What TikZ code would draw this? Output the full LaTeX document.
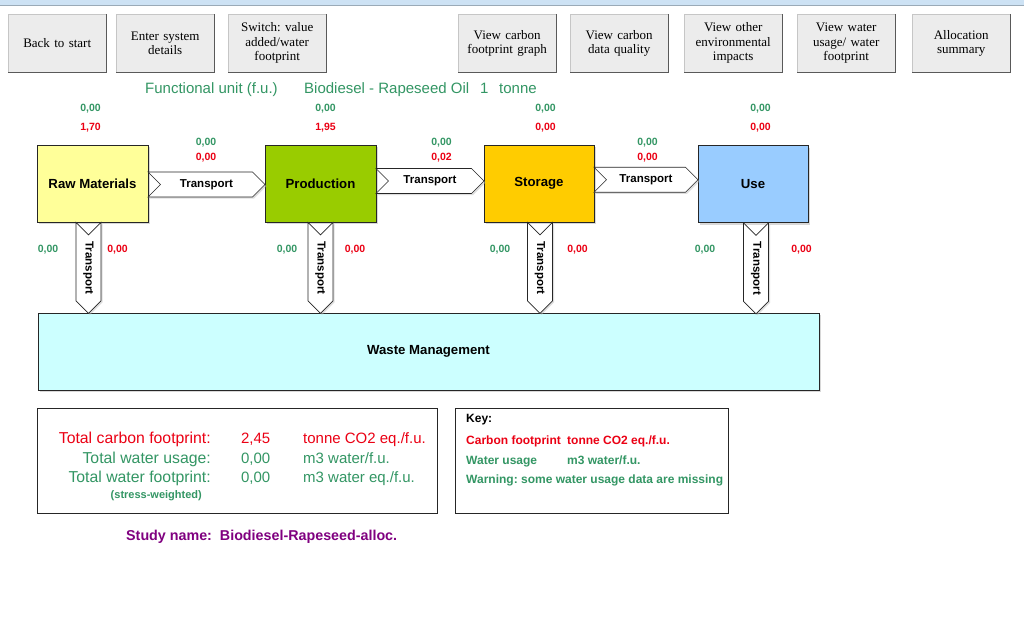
\documentclass[tikz,border=0pt]{standalone}
\usepackage{fontspec}
\setmainfont{Liberation Sans}
\newfontfamily\btnfont{Liberation Serif}
\usetikzlibrary{calc}
\usetikzlibrary{positioning}
\usetikzlibrary{shapes.symbols}
\usetikzlibrary{shadows}
\frenchspacing

\definecolor{fugreen}{RGB}{51,150,100}
\definecolor{fured}{RGB}{235,0,20}
\definecolor{rawfill}{RGB}{255,255,153}
\definecolor{prodfill}{RGB}{153,204,0}
\definecolor{storfill}{RGB}{255,204,0}
\definecolor{usefill}{RGB}{153,204,255}
\definecolor{wastefill}{RGB}{204,255,255}
\definecolor{btnfill}{RGB}{236,236,236}
\definecolor{studypurple}{RGB}{128,0,128}
\definecolor{barblue}{RGB}{205,226,244}

\begin{document}
\begin{tikzpicture} [x=1pt,y=-1pt,
  btn/.style={draw=gray!45, fill=btnfill, minimum width=98pt, minimum height=58pt, inner sep=1pt, align=center, text width=96pt, font=\btnfont\fontsize{13}{14.5}\selectfont},
  stage/.style={draw=black!85, line width=.8pt, minimum width=111pt, minimum height=77pt, font=\fontsize{13.2}{15}\selectfont\bfseries, drop shadow={shadow xshift=2pt, shadow yshift=-2pt, fill=black!30}},
  trans/.style={signal, signal from=west, signal to=east, draw=black!85, fill=white, line width=.6pt, minimum height=25pt, inner sep=0pt, font=\fontsize{11.5}{13}\selectfont\bfseries, drop shadow={shadow xshift=1.5pt, shadow yshift=-1.5pt, fill=black!25}},
  gval/.style={text=fugreen, inner sep=0pt, font=\fontsize{10.5}{12}\selectfont\bfseries},
  rval/.style={gval, text=fured},
  fu/.style={text=fugreen, inner sep=0pt, font=\fontsize{15}{18}\selectfont},
  tot/.style={inner sep=0pt, font=\fontsize{15}{18}\selectfont},
  totlab/.style={inner sep=0pt, anchor=base east, font=\fontsize{15.8}{18}\selectfont},
  keytxt/.style={inner sep=0pt, font=\fontsize{12}{14}\selectfont\bfseries}]
\useasboundingbox[fill=white] (0,0) rectangle (1024,619);
% toolbar strip
\fill[barblue] (0,0) rectangle (1024,5);
\draw[black!25!barblue] (0,5.5) -- (1024,5.5);

% buttons
\foreach \x/\nm/\txt in {8/bstart/{Back to start}, 116/bsys/{Enter system\\details}, 228/bswitch/{Switch: value\\added/water\\footprint}, 458/bgraph/{View carbon\\footprint graph}, 570/bqual/{View carbon\\data quality}, 684/bimp/{View other\\environmental\\impacts}, 797/bwater/{View water\\usage/ water\\footprint}, 912/balloc/{Allocation\\summary}} {
 \node[btn, anchor=north west] (\nm) at (\x,14) {\txt};
 \draw[black!65, line width=1pt] (\nm.north east) -- (\nm.south east) -- (\nm.south west);
}

% functional unit
\node[fu, anchor=base west] (fulab) at (145,93) {Functional unit (f.u.)};
\node[fu, anchor=base west] (fuprod) at (304,93) {Biodiesel - Rapeseed Oil};
\node[fu, anchor=base west] (fuqty) at (480,93) {1};
\node[fu, anchor=base west] (fuunit) at (499,93) {tonne};

% life cycle stages
\node[stage, fill=rawfill] (raw) at (92.5,183.5) {Raw Materials};
\node[stage, fill=prodfill] (prod) at (320.5,183.5) {Production};
\node[stage, fill=storfill, minimum width=110pt] (stor) at (539,183.5) {Storage};
\node[stage, fill=usefill, minimum width=110pt] (use) at (753,184) {Use};
\node[stage, fill=wastefill, minimum width=781pt] (waste) at (428.5,351.5) {Waste Management};

% transport between stages
\node[trans, minimum width=117pt] (t-raw) at ($(raw.east)!.5!(prod.west)+(0,1)$) {Transport};
\node[trans, minimum width=108pt] (t-prod) at ($(prod.east)!.5!(stor.west)+(0,-2.5)$) {Transport};
\node[trans, minimum width=104pt] (t-stor) at ($(stor.east)!.5!(use.west)+(0,-4)$) {Transport};

% transport to waste
\foreach \nm/\dx in {raw/-4, prod/0, stor/1, use/3} {
 \node[trans, rotate=-90, minimum width=91pt] (w-\nm) at ($(\nm.south)+(\dx,45.5)$) {Transport};
}

% values
\foreach \x/\g/\r/\nm in {90.5/{0,00}/{1,70}/raw, 325.5/{0,00}/{1,95}/prod, 545.5/{0,00}/{0,00}/stor, 760.5/{0,00}/{0,00}/use} {
 \node[gval] (\nm-g) at (\x,109) {\g};
 \node[rval] (\nm-r) at (\x,128) {\r};
}
\foreach \x/\r/\nm in {206/{0,00}/traw, 441.5/{0,02}/tprod, 647.5/{0,00}/tstor} {
 \node[gval] (\nm-g) at (\x,143) {0,00};
 \node[rval] (\nm-r) at (\x,158) {\r};
}
\foreach \xg/\xr/\nm in {48/117.5/wraw, 287/355/wprod, 500/577.5/wstor, 705/801.5/wuse} {
 \node[gval] (\nm-g) at (\xg,250) {0,00};
 \node[rval] (\nm-r) at (\xr,250) {0,00};
}

% totals
\node[draw=black!85, line width=.8pt, minimum width=400pt, minimum height=105pt] (totbox) at (237.5,460.5) {};
\node[totlab, text=fured] (tcarb) at (211,443) {Total carbon footprint:};
\node[tot, text=fured, anchor=base east] (tcarb-v) at (270.5,443) {2,45};
\node[tot, text=fured, anchor=base west] (tcarb-u) at (303,443) {tonne CO2 eq./f.u.};
\node[totlab, text=fugreen] (twat) at (211,463) {Total water usage:};
\node[tot, text=fugreen, anchor=base east] (twat-v) at (270.5,463) {0,00};
\node[tot, text=fugreen, anchor=base west] (twat-u) at (303,463) {m3 water/f.u.};
\node[totlab, text=fugreen] (twfp) at (211,482) {Total water footprint:};
\node[tot, text=fugreen, anchor=base east] (twfp-v) at (270.5,482) {0,00};
\node[tot, text=fugreen, anchor=base west] (twfp-u) at (303,482) {m3 water eq./f.u.};
\node[keytxt, text=fugreen, anchor=base east, font=\fontsize{11}{13}\selectfont\bfseries] (stress) at (202,498) {(stress-weighted)};

% key
\node[draw=black!85, line width=.8pt, minimum width=273pt, minimum height=105pt] (keybox) at (591.5,460.5) {};
\node[keytxt, anchor=base west] (keyhd) at (466,422) {Key:};
\node[keytxt, text=fured, anchor=base west] (kcarb) at (466,444) {Carbon footprint};
\node[keytxt, text=fured, anchor=base west] (kcarb-u) at (567,444) {tonne CO2 eq./f.u.};
\node[keytxt, text=fugreen, anchor=base west] (kwat) at (466,464) {Water usage};
\node[keytxt, text=fugreen, anchor=base west] (kwat-u) at (567,464) {m3 water/f.u.};
\node[keytxt, text=fugreen, anchor=base west] (kwarn) at (466,483) {Warning: some water usage data are missing};

% study
\node[inner sep=0pt, text=studypurple, anchor=base west, font=\fontsize{14.3}{16}\selectfont\bfseries] (study) at (126,540) {Study name:\ \ Biodiesel-Rapeseed-alloc.};
\end{tikzpicture}
\end{document}
